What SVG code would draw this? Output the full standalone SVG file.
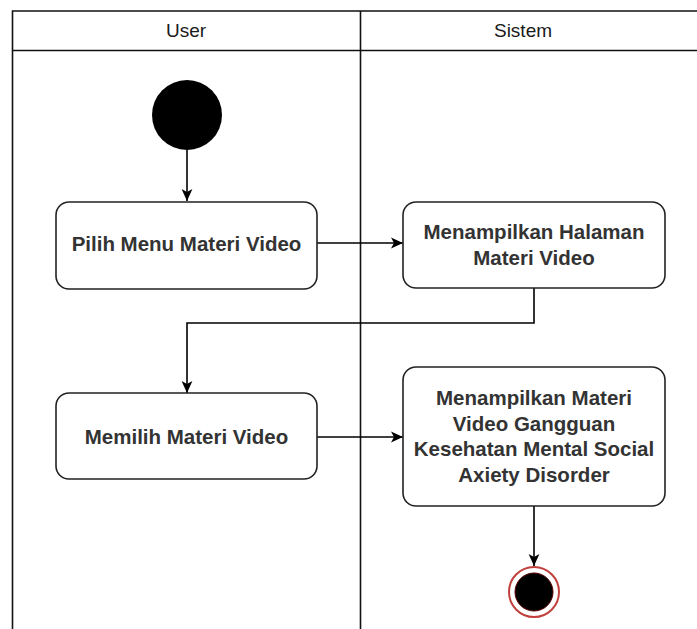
<svg xmlns="http://www.w3.org/2000/svg" width="697" height="629" viewBox="0 0 697 629">
  <defs>
    <style>
      .lane { fill: none; stroke: #111; stroke-width: 1.6; }
      .head { font-family: "Liberation Sans", Arial, sans-serif; font-size: 19px; fill: #1a1a1a; text-anchor: middle; }
      .act rect { fill: #fff; stroke: #222; stroke-width: 1.6; }
      .act text { font-family: "Liberation Sans", Arial, sans-serif; font-size: 20.5px; font-weight: bold; fill: #333; text-anchor: middle; }
      .edge { fill: none; stroke: #000; stroke-width: 1.6; }
    </style>
    <marker id="arrow" viewBox="0 0 10 10" refX="10" refY="5" markerWidth="12" markerHeight="12" markerUnits="userSpaceOnUse" orient="auto">
      <path d="M0,0.5 L10,5 L0,9.5 L2.5,5 Z" fill="#000"/>
    </marker>
  </defs>
  <rect width="697" height="629" fill="#fff"/>

  <!-- swimlanes -->
  <g id="lanes">
    <path class="lane" d="M12.5,640 V11 H700"/>
    <path class="lane" d="M12.5,50.5 H700"/>
    <path class="lane" d="M360.5,11 V640"/>
    <text class="head" x="186" y="37">User</text>
    <text class="head" x="523" y="37">Sistem</text>
  </g>

  <!-- connectors -->
  <g id="connectors">
    <path class="edge" d="M187,150 V201" marker-end="url(#arrow)"/>
    <path class="edge" d="M317,243 H403" marker-end="url(#arrow)"/>
    <path class="edge" d="M534,288 V323 H187 V393" marker-end="url(#arrow)"/>
    <path class="edge" d="M317,437 H403" marker-end="url(#arrow)"/>
    <path class="edge" d="M534,506 V566" marker-end="url(#arrow)"/>
  </g>

  <g id="start">
    <circle cx="187" cy="115" r="35" fill="#000"/>
  </g>

  <g id="pilih-menu" class="act">
    <rect x="56" y="202" width="261" height="87" rx="13"/>
    <text x="186.5" y="251">Pilih Menu Materi Video</text>
  </g>

  <g id="tampil-halaman" class="act">
    <rect x="403" y="202" width="262" height="86" rx="13"/>
    <text x="534" y="239">Menampilkan Halaman</text>
    <text x="534" y="265">Materi Video</text>
  </g>

  <g id="memilih-materi" class="act">
    <rect x="56" y="393" width="261" height="86" rx="13"/>
    <text x="186.5" y="443.5">Memilih Materi Video</text>
  </g>

  <g id="tampil-materi" class="act">
    <rect x="403" y="367" width="262" height="139" rx="13"/>
    <text x="534" y="405">Menampilkan Materi</text>
    <text x="534" y="430.5">Video Gangguan</text>
    <text x="534" y="456">Kesehatan Mental Social</text>
    <text x="534" y="481.5">Axiety Disorder</text>
  </g>

  <g id="end">
    <circle cx="534" cy="592" r="25" fill="#fff" stroke="#c2403c" stroke-width="2"/>
    <circle cx="534" cy="592" r="19" fill="#000" stroke="#5a0000" stroke-width="1"/>
  </g>
</svg>
